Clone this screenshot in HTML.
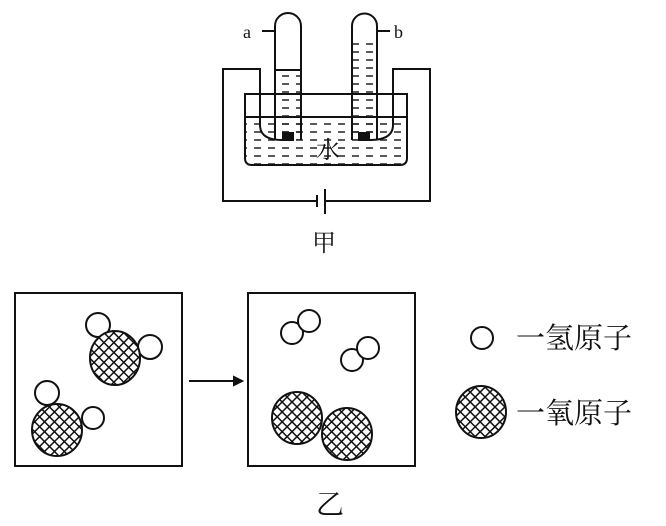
<!DOCTYPE html>
<html><head><meta charset="utf-8"><style>
body{margin:0;background:#fff}
svg{display:block}
text{font-family:"Liberation Serif","Noto Serif CJK SC",serif;fill:#111}
</style></head><body>
<svg width="666" height="526" viewBox="0 0 666 526">
<defs>
<pattern id="h" width="7" height="7" patternUnits="userSpaceOnUse" patternTransform="rotate(45)">
<rect width="7" height="7" fill="#fff"/>
<path d="M0 0H7M0 0V7" stroke="#111" stroke-width="3"/>
</pattern>
<pattern id="w" width="14" height="8" patternUnits="userSpaceOnUse">
<path d="M2 4H9" stroke="#222" stroke-width="1.5"/>
</pattern>
</defs>
<g stroke="#111" stroke-width="2" fill="none">
<path d="M245 94H407V158Q407 165 400 165H252Q245 165 245 158Z"/>
<rect x="246" y="118" width="160" height="46" fill="url(#w)" stroke="none"/>
<line x1="245" y1="117" x2="407" y2="117"/>
<rect x="276" y="70" width="24" height="70" fill="url(#w)" stroke="none"/>
<rect x="353" y="42" width="23" height="98" fill="url(#w)" stroke="none"/>
<path d="M275 140V26A13 13 0 0 1 301 26V140"/>
<path d="M352 140V26A12.5 12.5 0 0 1 377 26V140"/>
<line x1="276" y1="70" x2="300" y2="70"/>
<path d="M317 201H223V69H260V125Q260 140 282 140"/>
<path d="M326 201H430V69H393V125Q393 140 370 140"/>
<line x1="317" y1="195" x2="317" y2="207"/>
<line x1="325" y1="189" x2="325" y2="214"/>
<line x1="262" y1="31" x2="275" y2="31"/>
<line x1="377" y1="31" x2="390" y2="31"/>
</g>
<rect x="282" y="132" width="12" height="9" fill="#111"/>
<rect x="358" y="132" width="12" height="9" fill="#111"/>
<text x="243" y="38" font-size="18">a</text>
<text x="394" y="38" font-size="18">b</text>
<text x="316" y="158" font-size="24">水</text>
<text x="312" y="251" font-size="24">甲</text>
<g stroke="#111" stroke-width="2">
<rect x="15" y="293" width="167" height="173" fill="none"/>
<rect x="248" y="293" width="167" height="173" fill="none"/>
<line x1="189" y1="381" x2="236" y2="381"/>
<path d="M234 377L242 381L234 385Z" fill="#111"/>
<g fill="#fff">
<circle cx="98" cy="325" r="12"/><circle cx="150" cy="347" r="12"/>
<circle cx="47" cy="393" r="12"/><circle cx="93" cy="418" r="11"/>
<circle cx="292" cy="333" r="11"/><circle cx="309" cy="321" r="11"/>
<circle cx="352" cy="360" r="11"/><circle cx="368" cy="348" r="11"/>
<circle cx="482" cy="338" r="11"/>
</g>
<g fill="url(#h)">
<ellipse cx="115" cy="358" rx="25" ry="27"/>
<ellipse cx="57" cy="430" rx="25" ry="26"/>
<ellipse cx="297" cy="418" rx="25" ry="26"/>
<ellipse cx="347" cy="434" rx="25" ry="26"/>
<ellipse cx="481" cy="412" rx="25" ry="26"/>
</g>
</g>
<text x="516" y="348" font-size="29" font-family="Liberation Sans,Noto Sans CJK SC,sans-serif">一氢原子</text>
<text x="516" y="423" font-size="29" font-family="Liberation Sans,Noto Sans CJK SC,sans-serif">一氧原子</text>
<text x="316" y="514" font-size="28">乙</text>
</svg>
</body></html>
